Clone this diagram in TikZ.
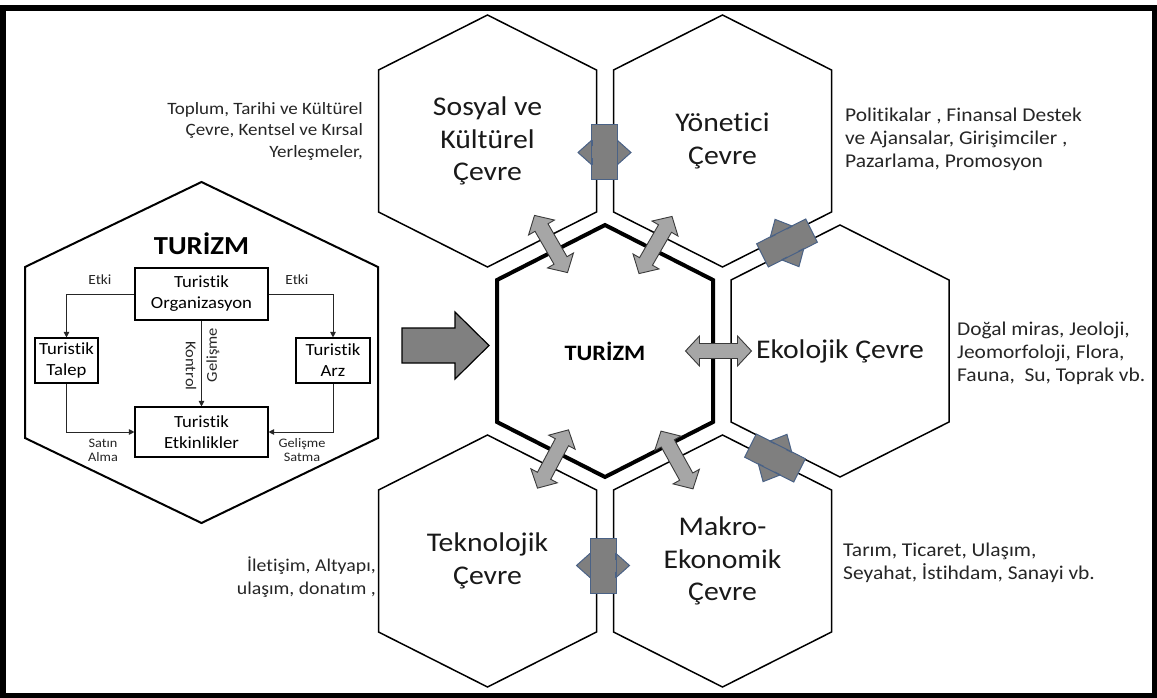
\documentclass[tikz,border=0pt]{standalone}
\usepackage{fontspec}
\setmainfont{Carlito}[FakeStretch=1.1,RawFeature={-liga}]
\usetikzlibrary{arrows.meta}

\newcommand\fs[2]{\fontsize{#1}{#2}\selectfont}
% pointy-top hexagon: centre x, centre y, half width, roof rise, half side
\newcommand\hexpath[5]{(#1,#2-#4-#5) -- (#1+#3,#2-#5) -- (#1+#3,#2+#5) -- (#1,#2+#4+#5) -- (#1-#3,#2+#5) -- (#1-#3,#2-#5) -- cycle}
% double arrow along local x: half length, shaft half width, head half width, head length
\newcommand\dblarrowpath[4]{(-#1,0) -- (-#1+#4,#3) -- (-#1+#4,#2) -- (#1-#4,#2) -- (#1-#4,#3) -- (#1,0) -- (#1-#4,-#3) -- (#1-#4,-#2) -- (-#1+#4,-#2) -- (-#1+#4,-#3) -- cycle}
% link between two outer cells: centre x, centre y, rotation
\newcommand\celllink[3]{%
  \begin{scope}[shift={(#1,#2)},rotate=#3]
    \draw[linkshape] \dblarrowpath{26.5}{6}{12.5}{14};
    \draw[linkshape] (-13,-27.5) rectangle (13,27.5);
    \draw[linkedge,line width=0.9pt] (-12.5,6) -- (-12.5,12.5) (-12.5,-6) -- (-12.5,-12.5)
      (12.5,6) -- (12.5,12.5) (12.5,-6) -- (12.5,-12.5);
  \end{scope}}
% exchange arrow of the core cell: centre x, centre y, rotation
\newcommand\corelink[3]{%
  \begin{scope}[shift={(#1,#2)},rotate=#3]
    \draw[coreshape] \dblarrowpath{33}{7.5}{15}{14};
  \end{scope}}

\definecolor{linkfill}{HTML}{7F7F7F}
\definecolor{linkedge}{HTML}{4A6286}
\definecolor{arrfill}{HTML}{A6A6A6}
\definecolor{arredge}{HTML}{3A3A3A}
\definecolor{notetext}{HTML}{262626}

\begin{document}
\begin{tikzpicture}[x=1pt,y=-1pt,
  hexline/.style={draw=black,line width=1.5pt,line join=miter},
  corehex/.style={draw=black,line width=4pt,line join=miter},
  bighex/.style={draw=black,line width=2pt,line join=miter},
  hexlabel/.style={align=center,inner sep=0pt,text=black!90,font=\fs{27}{32.5}},
  notel/.style={align=left,inner sep=0pt,text=notetext,font=\fs{18}{22.5}},
  noter/.style={align=right,inner sep=0pt,text=notetext,font=\fs{17.3}{21.5}},
  flowbox/.style={draw=black,line width=1.1pt,inner sep=0pt,align=center,font=\fs{17}{21}},
  flow/.style={draw=black!85,line width=0.9pt,-{Triangle[width=5.5pt,length=5.5pt]}},
  tag/.style={inner sep=0pt,align=center,text=notetext,font=\fs{13}{14}},
  linkshape/.style={fill=linkfill,draw=linkedge,line width=1pt,line join=miter},
  linkedge/.style={draw=linkedge},
  coreshape/.style={fill=arrfill,draw=arredge,line width=0.9pt,line join=miter},
  bigarrow/.style={fill=black!50,draw=black,line width=1.2pt,line join=miter}]

\useasboundingbox (0,0) rectangle (1157,698);
\fill[white] (0,0) rectangle (1157,698);
\draw[line width=5.5pt] (2.75,8) rectangle (1154.25,695.25);

% cell centres
\coordinate (core)  at (605,351);
\coordinate (sosyal) at (487.5,141);
\coordinate (yonet)  at (722.5,141);
\coordinate (ekolo)  at (840,351);
\coordinate (makro)  at (722.5,561);
\coordinate (tekno)  at (487.5,561);

% honeycomb cells
\draw[hexline] \hexpath{487.5}{141}{109}{55}{71};
\draw[hexline] \hexpath{722.5}{141}{109}{55}{71};
\draw[hexline] \hexpath{840}{351}{109}{55}{71};
\draw[hexline] \hexpath{722.5}{561}{109}{55}{71};
\draw[hexline] \hexpath{487.5}{561}{109}{55}{71};
\draw[corehex] \hexpath{605}{351}{108}{55}{71};

% links between neighbouring cells
\celllink{604.5}{152.5}{0}
\celllink{603}{565.5}{0}
\celllink{787}{243}{-63.2}
\celllink{775}{458}{63.2}

% exchange arrows around the core cell
\corelink{551}{244}{-60}
\corelink{655.5}{245}{60}
\corelink{718.5}{351}{0}
\corelink{553}{459}{62}
\corelink{677}{460}{-61}

% cell labels
\node[font=\bfseries\fs{22}{26}] (coreLbl) at (core) {TURİZM};
\node[hexlabel] (sosyalLbl) at (sosyal) {Sosyal ve\\Kültürel\\Çevre};
\node[hexlabel] (yonetLbl)  at (yonet)  {Yönetici\\Çevre};
\node[hexlabel] (ekoloLbl)  at (ekolo)  {Ekolojik Çevre};
\node[hexlabel] (makroLbl)  at (makro)  {Makro-\\Ekonomik\\Çevre};
\node[hexlabel] (teknoLbl)  at (tekno)  {Teknolojik\\Çevre};

% side notes
\node[noter,anchor=east] (sosyalNote) at (363,131) {Toplum, Tarihi ve Kültürel\\Çevre, Kentsel ve Kırsal\\Yerleşmeler,};
\node[notel,anchor=west,font=\fs{19.5}{23}] (yonetNote) at (845,139) {Politikalar , Finansal Destek\\ve Ajansalar, Girişimciler ,\\Pazarlama, Promosyon};
\node[notel,anchor=west,font=\fs{19.5}{23}] (ekoloNote) at (957,353) {Doğal miras, Jeoloji,\\Jeomorfoloji, Flora,\\Fauna,\ \ Su, Toprak vb.};
\node[notel,anchor=west,font=\fs{19.5}{23.5}] (makroNote) at (843,563) {Tarım, Ticaret, Ulaşım,\\Seyahat, İstihdam, Sanayi vb.};
\node[noter,anchor=east,font=\fs{18}{22.5}] (teknoNote) at (376,577) {İletişim, Altyapı,\\ulaşım, donatım ,};

% tourism system cell
\draw[bighex] \hexpath{201.5}{352.5}{176.5}{85}{85.5};
\node[font=\bfseries\fs{26}{30}] (title) at (201.5,244) {TURİZM};

\node[flowbox,minimum width=133pt,minimum height=52pt] (org)  at (201.5,294) {Turistik\\Organizasyon};
\node[flowbox,minimum width=63pt,minimum height=45pt]  (talep) at (66.5,360.5) {Turistik\\Talep};
\node[flowbox,minimum width=74pt,minimum height=45pt]  (arz)   at (333,360.5) {Turistik\\Arz};
\node[flowbox,minimum width=133pt,minimum height=50pt] (etk)  at (201.5,432) {Turistik\\Etkinlikler};

\draw[flow] (org.west) -| (talep.north);
\draw[flow] (org.east) -| (arz.north);
\draw[flow] (org.south) -- (etk.north);
\draw[flow] (talep.south) |- (etk.west);
\draw[flow] (arz.south) |- (etk.east);

\node[tag,font=\fs{14}{15}] (etkiL) at (100,280) {Etki};
\node[tag,font=\fs{14}{15}] (etkiR) at (297,280) {Etki};
\node[tag,font=\fs{15}{16},rotate=-90] (kontrol) at (191,366) {Kontrol};
\node[tag,font=\fs{15}{16},rotate=90] (gelisme) at (213,355) {Gelişme};
\node[tag] (satin) at (103,450) {Satın\\Alma};
\node[tag] (satma) at (302,450) {Gelişme\\Satma};

% input arrow into the core cell
\draw[bigarrow] (402,328) -- (455,328) -- (455,312) -- (489,345.5) -- (455,379) -- (455,363) -- (402,363) -- cycle;

\end{tikzpicture}
\end{document}
